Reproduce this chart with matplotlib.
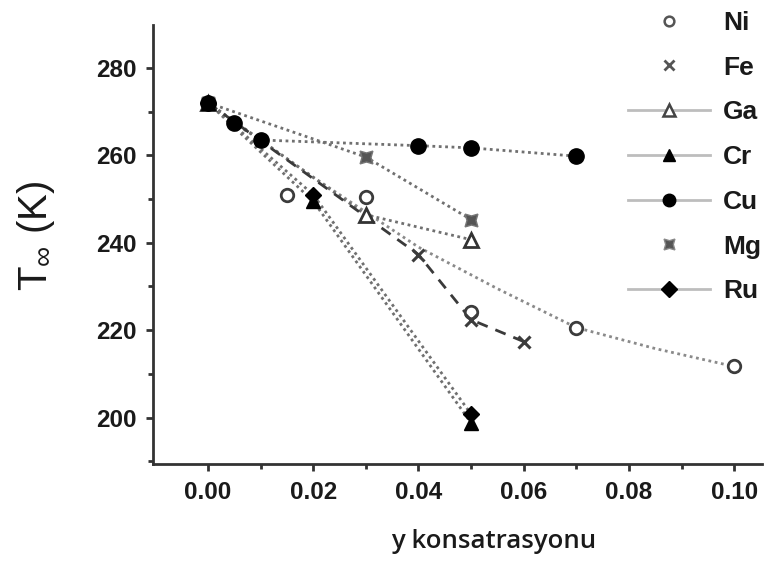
import matplotlib
matplotlib.use("Agg")
import matplotlib.pyplot as plt
from matplotlib.lines import Line2D

# Transition temperature vs. dopant concentration
ni_x = [0.0, 0.015, 0.03, 0.05, 0.07, 0.10]
ni_t = [272.0, 251.0, 250.5, 224.2, 220.6, 211.7]
ni_fit_x = [0.0, 0.02, 0.04, 0.055, 0.07, 0.085, 0.10]
ni_fit_t = [272.0, 255.0, 239.0, 229.5, 220.6, 215.8, 211.7]

fe_x = [0.0, 0.04, 0.05, 0.06]
fe_t = [272.0, 237.3, 222.4, 217.4]

ga_x = [0.0, 0.03, 0.05]
ga_t = [272.0, 246.4, 240.7]

cr_x = [0.0, 0.02, 0.05]
cr_t = [272.0, 249.5, 198.8]

cu_x = [0.0, 0.005, 0.01, 0.04, 0.05, 0.07]
cu_t = [272.0, 267.3, 263.5, 262.2, 261.7, 259.8]

mg_x = [0.0, 0.03, 0.05]
mg_t = [272.0, 259.6, 245.3]

ru_x = [0.0, 0.02, 0.05]
ru_t = [272.0, 251.0, 200.8]

labels = ["Ni", "Fe", "Ga", "Cr", "Cu", "Mg", "Ru"]
xticks = [0.00, 0.02, 0.04, 0.06, 0.08, 0.10]
yticks = [200, 220, 240, 260, 280]

fig = plt.figure(figsize=(7.8, 5.63), dpi=100)
ax = fig.add_axes([153 / 780, 1 - 464 / 563, (762 - 153) / 780, (464 - 25) / 563])

dot = (0, (1.0, 1.3))
lc = "#707070"
lw = 2.0

# trend lines
ax.plot(ni_fit_x, ni_fit_t, ls=dot, color="#8a8a8a", lw=lw, zorder=2)
ax.plot(mg_x, mg_t, ls=dot, color=lc, lw=lw, zorder=2)
ax.plot(ga_x, ga_t, ls=dot, color=lc, lw=lw, zorder=2)
ax.plot(cu_x, cu_t, ls=dot, color=lc, lw=lw, zorder=2)
ax.plot(cr_x, cr_t, ls=dot, color=lc, lw=lw, zorder=2)
ax.plot(ru_x, ru_t, ls=dot, color=lc, lw=lw, zorder=2)
ax.plot(fe_x, fe_t, ls=(0, (4, 3)), color="#3a3a3a", lw=2.0, zorder=2)

# markers
ax.plot(ni_x, ni_t, ls="none", marker="o", ms=9, mfc="white", mec="#3c3c3c", mew=2.0, zorder=4)
ax.plot(fe_x, fe_t, ls="none", marker="x", ms=9, mec="#3c3c3c", mew=2.2, zorder=4)
ax.plot(ga_x, ga_t, ls="none", marker="^", ms=10, mfc="white", mec="#333333", mew=2.0, zorder=4)
ax.plot(mg_x, mg_t, ls="none", marker=(4, 1, 45), ms=13, mfc="#555555", mec="#777777", mew=1.0, zorder=4)
ax.plot(cr_x, cr_t, ls="none", marker="^", ms=10, color="black", zorder=5)
ax.plot(ru_x, ru_t, ls="none", marker="D", ms=8.5, color="black", zorder=5)
ax.plot(cu_x, cu_t, ls="none", marker="o", ms=11, color="black", zorder=6)

ax.set_xlim(-0.01046, 0.1053)
ax.set_ylim(189.4, 289.8)
ax.set_xticks(xticks)
ax.set_xticklabels([f"{v:.2f}" for v in xticks])
ax.set_xticks([0.01, 0.03, 0.05, 0.07, 0.09], minor=True)
ax.set_yticks(yticks)
ax.set_yticks([190, 210, 230, 250, 270], minor=True)

for s in ("top", "right"):
    ax.spines[s].set_visible(False)
for s in ("left", "bottom"):
    ax.spines[s].set_linewidth(2.0)
    ax.spines[s].set_color("#333333")

ax.tick_params(which="major", direction="out", length=5, width=2, color="#333333", pad=7)
ax.tick_params(which="minor", direction="out", length=3.5, width=2, color="#333333")
for lab in ax.get_xticklabels() + ax.get_yticklabels():
    lab.set_fontfamily("Liberation Sans")
    lab.set_fontweight("bold")
    lab.set_fontsize(17.5)
    lab.set_color("#1a1a1a")

fig.text(494 / 780, 1 - 541 / 563, "y konsatrasyonu", family="Open Sans",
         fontsize=18.5, fontweight="semibold", color="#1a1a1a", ha="center", va="center")
fig.text(36 / 780, 1 - 236 / 563, r"T$_{\mathregular{\infty}}$ (K)", family="Liberation Sans",
         fontsize=29, rotation=90, color="#1a1a1a", ha="center", va="center")

# legend
lg = "#bdbdbd"
handles = [
    Line2D([], [], ls="none", marker="o", ms=7, mfc="white", mec="#555555", mew=1.8),
    Line2D([], [], ls="none", marker="x", ms=7, mec="#555555", mew=2.0),
    Line2D([], [], ls="-", color=lg, lw=2, marker="^", ms=9, mfc="white", mec="#444444", mew=1.8),
    Line2D([], [], ls="-", color=lg, lw=2, marker="^", ms=9, mfc="black", mec="black"),
    Line2D([], [], ls="-", color=lg, lw=2, marker="o", ms=9, mfc="black", mec="black"),
    Line2D([], [], ls="none", marker=(4, 1, 45), ms=11, mfc="#555555", mec="#888888", mew=1.0),
    Line2D([], [], ls="-", color=lg, lw=2, marker="D", ms=8, mfc="black", mec="black"),
]
leg = fig.legend(handles, labels, loc="upper left", bbox_to_anchor=(628 / 780, 1 - 11 / 563),
                 frameon=False, handlelength=3.1, handletextpad=0.5, labelspacing=0.785,
                 borderpad=0, borderaxespad=0,
                 prop={"family": "Liberation Sans", "weight": "bold", "size": 19})
for t in leg.get_texts():
    t.set_color("#1a1a1a")

fig.savefig("out.png", dpi=100)
